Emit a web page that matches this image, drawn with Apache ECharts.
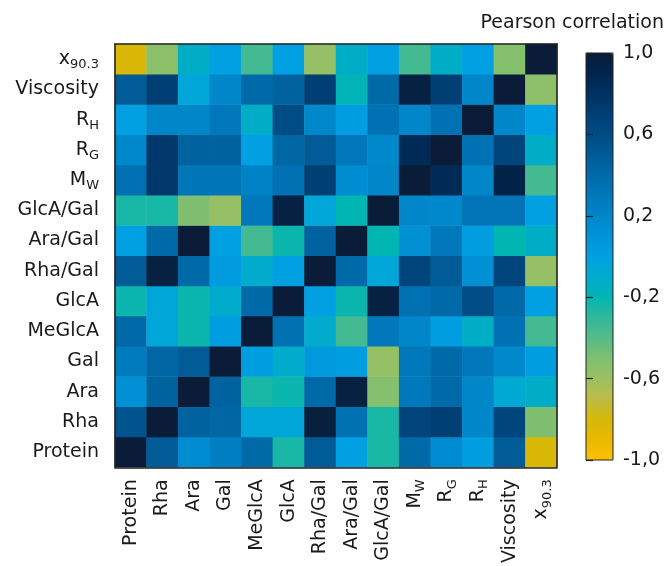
<!DOCTYPE html>
<html>
<head>
<meta charset="utf-8">
<script src="https://cdn.jsdelivr.net/npm/echarts@6/dist/echarts.min.js"></script>
<style>
html,body{margin:0;padding:0;background:#fff;}
#chart{width:671px;height:566px;}
</style>
</head>
<body>
<div id="chart"></div>
<script>
// Variables (x axis left->right, y axis bottom->top)
const categories = ['Protein','Rha','Ara','Gal','MeGlcA','GlcA','Rha/Gal','Ara/Gal','GlcA/Gal','M_W','R_G','R_H','Viscosity','x_90.3'];

// Pearson correlation values, one array per row (columns in category order)
const rowProtein   = [1.00, 0.50, 0.15, 0.25, 0.40,-0.25, 0.50, 0.00,-0.25, 0.40, 0.15, 0.02, 0.50,-0.82];
const rowRha       = [0.55, 1.00, 0.45, 0.42,-0.05,-0.05, 0.97, 0.35,-0.25, 0.65, 0.70, 0.20, 0.65,-0.50];
const rowAra       = [0.12, 0.45, 1.00, 0.45,-0.25,-0.22, 0.40, 0.95,-0.52, 0.30, 0.40, 0.20,-0.08,-0.12];
const rowGal       = [0.28, 0.42, 0.50, 1.00, 0.02,-0.10, 0.05, 0.02,-0.58, 0.30, 0.40, 0.30, 0.18, 0.02];
const rowMeGlcA    = [0.40,-0.05,-0.22, 0.02, 1.00, 0.35,-0.10,-0.35, 0.30, 0.20, 0.02,-0.12, 0.35,-0.35];
const rowGlcA      = [-0.22,-0.05,-0.22,-0.10, 0.40, 1.00, 0.00,-0.22, 0.95, 0.35, 0.40, 0.60, 0.40, 0.00];
const rowRhaGal    = [0.50, 0.95, 0.40, 0.03,-0.10, 0.00, 1.00, 0.40,-0.05, 0.65, 0.50, 0.12, 0.65,-0.58];
const rowAraGal    = [0.00, 0.40, 1.00, 0.00,-0.35,-0.22, 0.45, 1.00,-0.20, 0.12, 0.30, 0.02,-0.20,-0.12];
const rowGlcAGal   = [-0.25,-0.25,-0.50,-0.58, 0.30, 0.95,-0.05,-0.20, 1.00, 0.20, 0.18, 0.33, 0.33, 0.00];
const rowMW        = [0.35, 0.75, 0.32, 0.32, 0.22, 0.35, 0.70, 0.15, 0.20, 1.00, 0.85, 0.20, 0.92,-0.35];
const rowRG        = [0.18, 0.75, 0.45, 0.45, 0.00, 0.42, 0.50, 0.30, 0.18, 0.85, 1.00, 0.35, 0.65,-0.12];
const rowRH        = [0.00, 0.20, 0.20, 0.30,-0.12, 0.60, 0.18, 0.02, 0.35, 0.20, 0.35, 1.00, 0.20, 0.00];
const rowViscosity = [0.50, 0.70,-0.05, 0.20, 0.40, 0.45, 0.70,-0.18, 0.40, 0.95, 0.70, 0.20, 1.00,-0.55];
const rowX903      = [-0.82,-0.55,-0.12, 0.00,-0.35, 0.00,-0.58,-0.12, 0.00,-0.35,-0.12, 0.00,-0.52, 1.00];

const rows = [rowProtein,rowRha,rowAra,rowGal,rowMeGlcA,rowGlcA,rowRhaGal,rowAraGal,rowGlcAGal,rowMW,rowRG,rowRH,rowViscosity,rowX903];

// Colour scale from -1 to 1
const scaleColors = ['#fbbf00','#e8b900','#d6b80a','#bcbc45','#9cc062','#7ec070','#55bb88','#30b99a','#00b5b2','#00abcc',
  '#00a0e3','#0092d6','#0086c9','#0078bb','#006aa9','#005b96','#004c86','#003f74','#003162','#00254c','#0b1c38'];

const data = [];
rows.forEach((r, yi) => r.forEach((v, xi) => data.push([xi, yi, v])));

const FONT = 'DejaVu Sans';
const FS = 19;
const TXT = '#1a1a1a';
function fmt(v){
  const i = v.indexOf('_');
  if (i < 0) return v;
  return '{m|' + v.slice(0, i) + '}{s|' + v.slice(i + 1) + '}';
}
const rich = {
  m: {fontSize: FS, fontFamily: FONT, color: TXT, lineHeight: 25},
  s: {fontSize: 13, fontFamily: FONT, color: TXT, lineHeight: 15, verticalAlign: 'bottom'}
};
const lineSt = {color: '#222', width: 1.6};

const chart = echarts.init(document.getElementById('chart'), null, {renderer: 'canvas'});
chart.setOption({
  animation: false,
  backgroundColor: '#fff',
  title: {
    text: 'Pearson correlation', right: 2, top: 9,
    textStyle: {fontFamily: FONT, fontSize: FS, fontWeight: 'normal', color: TXT}
  },
  grid: [
    {left: 115, top: 44, width: 442, height: 424, z: 5},
    {left: 586, top: 53, width: 27, height: 407, show: true, borderColor: '#222', borderWidth: 1, backgroundColor: 'transparent', z: 10}
  ],
  xAxis: [
    {type: 'category', gridIndex: 0, data: categories, position: 'bottom', z: 5,
     axisLine: {lineStyle: lineSt}, axisTick: {alignWithLabel: true, length: 10, lineStyle: lineSt},
     axisLabel: {rotate: 90, margin: 12, fontSize: FS, fontFamily: FONT, color: TXT, formatter: fmt, rich: rich, interval: 0},
     splitLine: {show: false}},
    {type: 'category', gridIndex: 0, data: categories, position: 'top', z: 5,
     axisLine: {lineStyle: lineSt}, axisTick: {show: false}, axisLabel: {show: false}},
    {type: 'value', gridIndex: 1, min: 0, max: 1, show: false}
  ],
  yAxis: [
    {type: 'category', gridIndex: 0, data: categories, position: 'left', z: 5,
     axisLine: {lineStyle: lineSt}, axisTick: {alignWithLabel: true, length: 10, lineStyle: lineSt},
     axisLabel: {margin: 16, fontSize: FS, fontFamily: FONT, color: TXT, formatter: fmt, rich: rich, interval: 0},
     splitLine: {show: false}},
    {type: 'category', gridIndex: 0, data: categories, position: 'right', z: 5,
     axisLine: {lineStyle: lineSt}, axisTick: {show: false}, axisLabel: {show: false}},
    {type: 'value', gridIndex: 1, position: 'right', min: -1, max: 1, interval: 0.4, z: 10,
     axisLine: {show: false}, splitLine: {show: false},
     axisTick: {show: true, length: 7, lineStyle: {color: '#222', width: 1.2}},
     axisLabel: {margin: 10, fontSize: FS, fontFamily: FONT, color: TXT,
       formatter: v => v.toFixed(1).replace('.', ',')}}
  ],
  visualMap: {
    type: 'continuous', min: -1, max: 1, calculable: false, seriesIndex: 0,
    orient: 'vertical', left: 586, top: 53, itemWidth: 27, itemHeight: 407, padding: 0,
    inRange: {color: scaleColors}
  },
  series: [{
    type: 'heatmap', xAxisIndex: 0, yAxisIndex: 0, data: data, z: 2,
    itemStyle: {borderWidth: 0},
    emphasis: {disabled: true}
  }]
});
</script>
</body>
</html>
